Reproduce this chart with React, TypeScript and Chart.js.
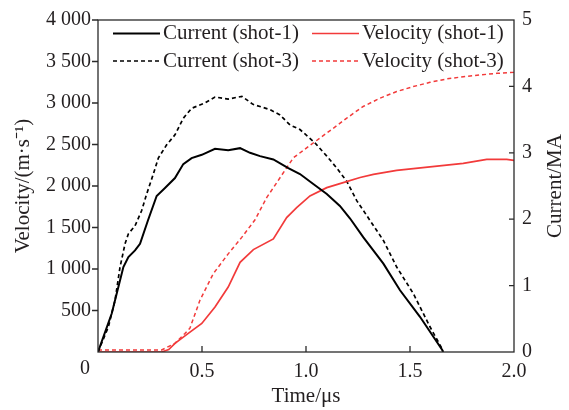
import React, { useEffect, useRef } from 'react';
import { Chart, registerables } from 'chart.js';

Chart.register(...registerables);

const FONT = '"Liberation Serif", "Times New Roman", serif';
const TEXT = '#231f20';
const RED = '#f23a3a';
const BLACK = '#000000';

// Time axis (μs)
const timeTicks = [0, 0.5, 1.0, 1.5, 2.0];

// Current (shot-1), MA
const current1T = [0, 0.066, 0.122, 0.146, 0.178, 0.202, 0.24, 0.282, 0.322, 0.37, 0.41, 0.45, 0.499, 0.5625, 0.626, 0.683, 0.731, 0.779, 0.843, 0.915, 0.971, 1.035, 1.1, 1.163, 1.212, 1.275, 1.372, 1.452, 1.548, 1.655, 1.659];
const current1 = [0, 0.58, 1.28, 1.43, 1.53, 1.63, 1.98, 2.35, 2.47, 2.62, 2.83, 2.92, 2.97, 3.06, 3.04, 3.07, 3.0, 2.95, 2.9, 2.77, 2.68, 2.53, 2.38, 2.2, 2.01, 1.73, 1.33, 0.93, 0.53, 0.03, 0];

// Current (shot-3), MA
const current3T = [0, 0.05, 0.082, 0.106, 0.13, 0.146, 0.178, 0.21, 0.234, 0.266, 0.29, 0.33, 0.37, 0.41, 0.45, 0.514, 0.5625, 0.626, 0.692, 0.745, 0.827, 0.875, 0.923, 0.971, 1.043, 1.1, 1.148, 1.196, 1.244, 1.308, 1.372, 1.436, 1.516, 1.596, 1.652, 1.659];
const current3 = [0, 0.38, 0.78, 1.28, 1.63, 1.78, 1.9, 2.13, 2.38, 2.68, 2.92, 3.12, 3.27, 3.52, 3.67, 3.75, 3.84, 3.81, 3.85, 3.73, 3.65, 3.57, 3.42, 3.35, 3.15, 2.95, 2.77, 2.57, 2.28, 1.98, 1.68, 1.28, 0.88, 0.38, 0.06, 0];

// Velocity (shot-1), m/s
const velocity1T = [0, 0.306, 0.34, 0.37, 0.434, 0.499, 0.5625, 0.626, 0.683, 0.747, 0.843, 0.907, 0.955, 1.019, 1.1, 1.179, 1.26, 1.324, 1.436, 1.596, 1.756, 1.869, 1.965, 2.0];
const velocity1 = [0, 0, 30, 104, 224, 344, 543, 782, 1081, 1234, 1362, 1620, 1740, 1880, 1980, 2040, 2102, 2140, 2188, 2231, 2272, 2320, 2320, 2308];

// Velocity (shot-3), m/s
const velocity3T = [0, 0.306, 0.37, 0.418, 0.442, 0.49, 0.554, 0.626, 0.691, 0.755, 0.811, 0.875, 0.939, 1.003, 1.067, 1.131, 1.196, 1.275, 1.356, 1.436, 1.516, 1.596, 1.676, 1.756, 1.837, 1.916, 2.0];
const velocity3 = [24, 24, 104, 224, 287, 623, 943, 1182, 1381, 1593, 1860, 2099, 2339, 2459, 2578, 2695, 2818, 2958, 3058, 3138, 3198, 3249, 3290, 3317, 3338, 3357, 3369];

const seriesLabels = ['Current (shot-1)', 'Velocity (shot-1)', 'Current (shot-3)', 'Velocity (shot-3)'];
const rightTitle = 'Current/MA';

const zip = (xs: number[], ys: number[]) => xs.map((x, i) => ({ x, y: ys[i] }));

const fmtThousands = (v: number) => {
  const s = String(Math.round(v));
  return s.length > 3 ? s.slice(0, s.length - 3) + ' ' + s.slice(s.length - 3) : s;
};

const framePlugin = {
  id: 'frameTicks',
  afterDraw(chart: any) {
    const { ctx, chartArea } = chart;
    const { left, right, top, bottom } = chartArea;
    const xs = chart.scales.x;
    const yl = chart.scales.y;
    const yr = chart.scales.y1;
    ctx.save();
    ctx.strokeStyle = '#2a2a2a';
    ctx.lineWidth = 1.3;
    ctx.strokeRect(left, top, right - left, bottom - top);
    ctx.beginPath();
    // left ticks: outward
    yl.ticks.forEach((t: any) => {
      if (t.value === 0) return;
      const y = yl.getPixelForValue(t.value);
      ctx.moveTo(left - 6, y);
      ctx.lineTo(left, y);
    });
    // right ticks: inward
    yr.ticks.forEach((t: any) => {
      if (t.value === 0 || t.value === 5) return;
      const y = yr.getPixelForValue(t.value);
      ctx.moveTo(right - 5, y);
      ctx.lineTo(right, y);
    });
    // bottom ticks: inward
    xs.ticks.forEach((t: any) => {
      if (t.value === 0 || t.value === 2) return;
      const x = xs.getPixelForValue(t.value);
      ctx.moveTo(x, bottom);
      ctx.lineTo(x, bottom - 6);
    });
    ctx.stroke();
    // corner "0" of the time axis
    ctx.fillStyle = TEXT;
    ctx.font = `20px ${FONT}`;
    ctx.textAlign = 'center';
    ctx.textBaseline = 'middle';
    ctx.fillText('0', left - 13, bottom + 17);
    // right axis title, reading bottom to top
    ctx.font = `21px ${FONT}`;
    ctx.translate(yr.right - 14, (top + bottom) / 2);
    ctx.rotate(-Math.PI / 2);
    ctx.fillText(rightTitle, 0, 0);
    ctx.restore();
  },
};

const legendPlugin = {
  id: 'insideLegend',
  afterDraw(chart: any) {
    const { ctx, chartArea } = chart;
    const cols = [chartArea.left + 15, chartArea.left + 214];
    const rows = [chartArea.top + 13.5, chartArea.top + 41];
    const order = [
      [0, 0, 0],
      [1, 1, 0],
      [2, 0, 1],
      [3, 1, 1],
    ];
    ctx.save();
    order.forEach(([di, c, r]) => {
      const ds = chart.data.datasets[di];
      const x = cols[c];
      const y = rows[r];
      ctx.beginPath();
      ctx.strokeStyle = ds.borderColor;
      ctx.lineWidth = ds.borderWidth;
      ctx.setLineDash(ds.borderDash || []);
      ctx.moveTo(x, y);
      ctx.lineTo(x + 47, y);
      ctx.stroke();
      ctx.setLineDash([]);
      ctx.fillStyle = TEXT;
      ctx.font = `21px ${FONT}`;
      ctx.textAlign = 'left';
      ctx.textBaseline = 'middle';
      ctx.fillText(ds.label, x + 50, y);
    });
    ctx.restore();
  },
};

export default function App() {
  const ref = useRef<HTMLCanvasElement>(null);
  useEffect(() => {
    const chart = new Chart(ref.current as HTMLCanvasElement, {
      type: 'line',
      data: {
        datasets: [
          {
            label: seriesLabels[0],
            data: zip(current1T, current1),
            yAxisID: 'y1',
            borderColor: BLACK,
            borderWidth: 2,
            pointRadius: 0,
            tension: 0,
          },
          {
            label: seriesLabels[1],
            data: zip(velocity1T, velocity1),
            yAxisID: 'y',
            borderColor: RED,
            borderWidth: 1.7,
            pointRadius: 0,
            tension: 0,
          },
          {
            label: seriesLabels[2],
            data: zip(current3T, current3),
            yAxisID: 'y1',
            borderColor: BLACK,
            borderWidth: 1.7,
            borderDash: [4, 3],
            pointRadius: 0,
            tension: 0,
          },
          {
            label: seriesLabels[3],
            data: zip(velocity3T, velocity3),
            yAxisID: 'y',
            borderColor: RED,
            borderWidth: 1.5,
            borderDash: [4, 3],
            pointRadius: 0,
            tension: 0,
          },
        ] as any,
      },
      options: {
        responsive: false,
        animation: false,
        devicePixelRatio: 1,
        layout: { padding: { top: 18, left: 0, right: 0, bottom: 0 } },
        plugins: { legend: { display: false }, tooltip: { enabled: false } },
        scales: {
          x: {
            type: 'linear',
            position: 'bottom',
            min: timeTicks[0],
            max: timeTicks[timeTicks.length - 1],
            afterBuildTicks: (s: any) => {
              s.ticks = timeTicks.map((v) => ({ value: v }));
            },
            ticks: {
              callback: (v: any) => (Number(v) === 0 ? '' : Number(v).toFixed(1)),
              font: { family: FONT, size: 20 },
              color: TEXT,
              padding: 8,
              maxRotation: 0,
              autoSkip: false,
            },
            grid: { display: false, drawTicks: false },
            border: { display: false },
            title: {
              display: true,
              text: 'Time/μs',
              font: { family: FONT, size: 21 },
              color: TEXT,
              padding: { top: 0, bottom: 1 },
            },
            afterFit: (s: any) => {
              s.height = 58;
            },
          },
          y: {
            type: 'linear',
            position: 'left',
            min: 0,
            max: 4000,
            ticks: {
              stepSize: 500,
              callback: (v: any) => (Number(v) === 0 ? '' : fmtThousands(Number(v))),
              font: { family: FONT, size: 20 },
              color: TEXT,
              padding: 7,
            },
            grid: { display: false, drawTicks: false },
            border: { display: false },
            title: {
              display: true,
              text: 'Velocity/(m·s⁻¹)',
              font: { family: FONT, size: 21 },
              color: TEXT,
              padding: { top: 11, bottom: 0 },
            },
            afterFit: (s: any) => {
              s.width = 98;
            },
          },
          y1: {
            type: 'linear',
            position: 'right',
            min: 0,
            max: 5,
            ticks: {
              stepSize: 1,
              font: { family: FONT, size: 20 },
              color: TEXT,
              padding: 8,
            },
            grid: { display: false, drawTicks: false },
            border: { display: false },
            title: { display: false },
            afterFit: (s: any) => {
              s.width = 55;
            },
          },
        },
      } as any,
      plugins: [framePlugin, legendPlugin],
    });
    return () => chart.destroy();
  }, []);
  return (
    <div style={{ position: 'fixed', left: 0, top: 0, width: 569, height: 410, background: '#fff' }}>
      <canvas ref={ref} width={569} height={410} style={{ display: 'block' }} />
    </div>
  );
}
